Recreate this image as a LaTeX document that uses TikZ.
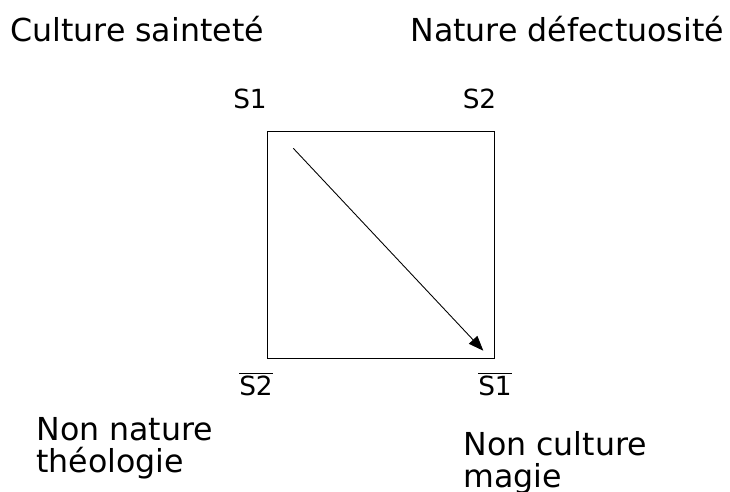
\documentclass[tikz,border=0pt]{standalone}
\usepackage{fontspec}
\setmainfont{DejaVu Sans}
\usetikzlibrary{arrows.meta,positioning}
\tikzset{
  big/.style={inner sep=0pt, font=\fontsize{18}{18.2}\selectfont},
  corner/.style={inner sep=0pt, anchor=base, font=\fontsize{15}{18}\selectfont},
}

\begin{document}
\begin{tikzpicture}[x=0.02cm,y=-0.02cm]
    \useasboundingbox (0,0) rectangle (730,491);

    % The square
    \draw[line width=0.6pt] (267.7,131.5) rectangle (494.2,358.3);

    % Corner labels
    \node[corner] (s1) at (250,108.3) {S1};
    \node[corner] (s2) at (479.5,108.3) {S2};
    \node[corner] (ns2) at (256,395.5) {$\overline{\mbox{S2}}$};
    \node[corner] (ns1) at (495,395) {$\overline{\mbox{S1}}$};

    % The arrow
    \coordinate (from) at (293.3,148.3);
    \coordinate (to) at (483.3,350.7);
    \draw[line width=0.5pt, -{Triangle[length=8.5pt,width=6.5pt]}] (from) -- (to);

    % Top texts
    \node[big, anchor=base west] (cult) at (10,41) {Culture sainteté};
    \node[big, anchor=base west] (nat) at (410,41.5) {Nature défectuosité};

    % Bottom texts
    \node[big, anchor=north west, align=left] (theo) at (36,416.7) {Non nature\\théologie};
    \node[big, anchor=north west, align=left] (mag) at (463,430.7) {Non culture\\magie};
  \end{tikzpicture}
\end{document}
